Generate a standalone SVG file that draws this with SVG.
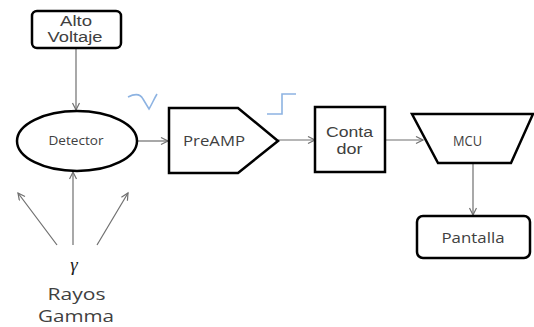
<svg xmlns="http://www.w3.org/2000/svg" width="534" height="327" viewBox="0 0 534 327">
<style>
.box{fill:#fff;stroke:#000;stroke-width:2.5;}
.con{fill:none;stroke:#6f6f6f;stroke-width:1.2;}
.sig{fill:none;stroke:#8db3e2;stroke-width:1.6;}
.t{font-family:"Open Sans","Liberation Sans",Arial,sans-serif;fill:#404040;text-anchor:middle;}
.t2{font-family:"Liberation Sans",Arial,sans-serif;fill:#404040;text-anchor:middle;font-size:13.8px;}
</style>
<defs>
<marker id="arr" markerWidth="10" markerHeight="10" refX="8" refY="4" orient="auto" markerUnits="userSpaceOnUse">
<path d="M1,0.5 L8,4 L1,7.5" fill="none" stroke="#6f6f6f" stroke-width="1.2"/>
</marker>
</defs>
<rect width="534" height="327" fill="#fff"/>
<g id="connectors">
<line class="con" x1="76" y1="48" x2="76" y2="110" marker-end="url(#arr)"/>
<line class="con" x1="137" y1="141" x2="168" y2="141" marker-end="url(#arr)"/>
<line class="con" x1="278" y1="140" x2="315" y2="140" marker-end="url(#arr)"/>
<line class="con" x1="385" y1="140" x2="423" y2="140" marker-end="url(#arr)"/>
<line class="con" x1="473" y1="164" x2="473" y2="215" marker-end="url(#arr)"/>
<line class="con" x1="73" y1="245" x2="73" y2="172" marker-end="url(#arr)"/>
<line class="con" x1="57" y1="245" x2="18" y2="193" marker-end="url(#arr)"/>
<line class="con" x1="97" y1="245" x2="128" y2="193" marker-end="url(#arr)"/>
</g>
<g id="alto-voltaje">
<rect class="box" x="32" y="11" width="89" height="37" rx="5"/>
<text class="t2" x="76" y="26" textLength="32" lengthAdjust="spacingAndGlyphs">Alto</text>
<text class="t2" x="75" y="42" textLength="55" lengthAdjust="spacingAndGlyphs">Voltaje</text>
</g>
<g id="detector">
<ellipse class="box" cx="77" cy="141" rx="60" ry="30"/>
<text class="t" x="76" y="144.5" font-size="13" textLength="55" lengthAdjust="spacingAndGlyphs">Detector</text>
</g>
<g id="preamp">
<polygon class="box" points="169,108 238,108 278,141 238,173 169,173"/>
<text class="t" x="214" y="146" font-size="15" textLength="62" lengthAdjust="spacingAndGlyphs">PreAMP</text>
</g>
<g id="contador">
<rect class="box" x="315" y="107" width="70" height="65"/>
<text class="t2" x="349.5" y="137" textLength="47" lengthAdjust="spacingAndGlyphs">Conta</text>
<text class="t2" x="349.5" y="153.5" textLength="26" lengthAdjust="spacingAndGlyphs">dor</text>
</g>
<g id="mcu">
<polygon class="box" points="412,114 533,114 511,163 438,163"/>
<text class="t" x="467.5" y="146" font-size="14" textLength="29" lengthAdjust="spacingAndGlyphs">MCU</text>
</g>
<g id="pantalla">
<rect class="box" x="417" y="216" width="113" height="42" rx="6"/>
<text class="t" x="473" y="243" font-size="15" textLength="63" lengthAdjust="spacingAndGlyphs">Pantalla</text>
</g>
<g id="rayos-gamma">
<text x="74" y="271" font-size="19" font-style="italic" font-family="'Liberation Serif','DejaVu Serif',serif" fill="#202020" text-anchor="middle">γ</text>
<text class="t" x="76.5" y="299.5" font-size="17" textLength="58" lengthAdjust="spacingAndGlyphs">Rayos</text>
<text class="t" x="76" y="321.5" font-size="17" textLength="76" lengthAdjust="spacingAndGlyphs">Gamma</text>
</g>
<g id="signals">
<path class="sig" d="M128,97 C134,94 140,93 143,99 L149,109 C152,104 154,99 157,94"/>
<path class="sig" d="M267,114 L282,114 L282,94 L296,94"/>
</g>
</svg>
